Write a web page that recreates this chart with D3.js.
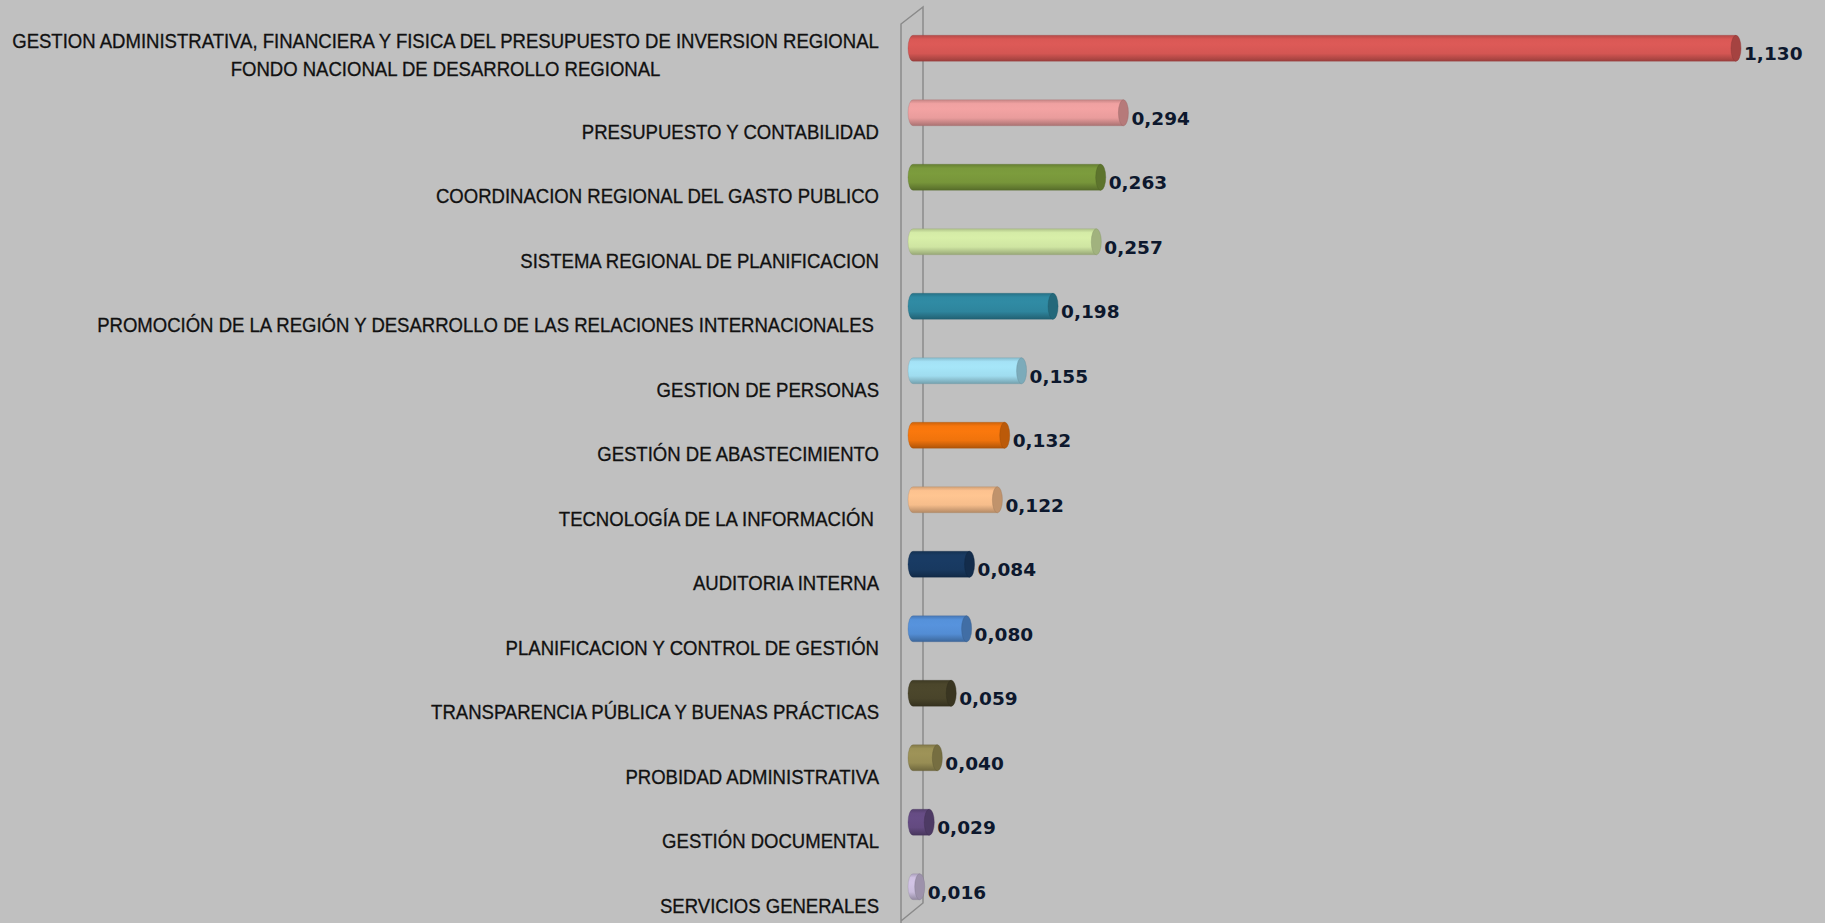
<!DOCTYPE html>
<html>
<head>
<meta charset="utf-8">
<script src="https://cdn.jsdelivr.net/npm/d3@7"></script>
<style>
  body { margin: 0; background: #c0c0c0; overflow: hidden; }
  svg { display: block; }
  .cat-label { font-family: "Liberation Sans", sans-serif; font-size: 19.5px; fill: #111; stroke: #111; stroke-width: 0.3px; white-space: pre; }
  .val-label { font-family: "DejaVu Sans", sans-serif; font-weight: bold; font-size: 18.5px; fill: #0d182d; }
</style>
</head>
<body>
<div id="bar-chart"></div>
<script>
// Data
const categories = [
  "GESTION ADMINISTRATIVA, FINANCIERA Y FISICA DEL PRESUPUESTO DE INVERSION REGIONAL\nFONDO NACIONAL DE DESARROLLO REGIONAL",
  "PRESUPUESTO Y CONTABILIDAD",
  "COORDINACION REGIONAL DEL GASTO PUBLICO",
  "SISTEMA REGIONAL DE PLANIFICACION",
  "PROMOCIÓN DE LA REGIÓN Y DESARROLLO DE LAS RELACIONES INTERNACIONALES ",
  "GESTION DE PERSONAS",
  "GESTIÓN DE ABASTECIMIENTO",
  "TECNOLOGÍA DE LA INFORMACIÓN ",
  "AUDITORIA INTERNA",
  "PLANIFICACION Y CONTROL DE GESTIÓN",
  "TRANSPARENCIA PÚBLICA Y BUENAS PRÁCTICAS",
  "PROBIDAD ADMINISTRATIVA",
  "GESTIÓN DOCUMENTAL",
  "SERVICIOS GENERALES"
];
const values = [1.130, 0.294, 0.263, 0.257, 0.198, 0.155, 0.132, 0.122, 0.084, 0.080, 0.059, 0.040, 0.029, 0.016];
const valueLabels = ["1,130", "0,294", "0,263", "0,257", "0,198", "0,155", "0,132", "0,122", "0,084", "0,080", "0,059", "0,040", "0,029", "0,016"];
const barColors = ["#d45653", "#e99c9c", "#77953a", "#cfe5a2", "#2e859d", "#9fdcef", "#f0730c", "#f6bd8b",
                   "#183960", "#538dd4", "#49442a", "#978d54", "#634a80", "#c9bcdc"];

const drawBarChart = () => {
  const width = 1825;
  const height = 923;
  const labelRight = 879;
  const firstLineWidth = 867;
  const barHeight = 26;
  const capRx = 5;

  const svg = d3.select("#bar-chart")
    .append("svg")
      .attr("width", width)
      .attr("height", height);

  svg.append("rect")
    .attr("width", width)
    .attr("height", height)
    .attr("fill", "#c0c0c0");

  // Scales
  const xScale = d3.scaleLinear()
    .domain([0, 1.13])
    .range([908, 1736]);

  const yScale = d3.scalePoint()
    .domain(categories)
    .range([16, 919])
    .padding(0.5);

  // 3D wall
  svg.append("path")
    .attr("d", "M901,923 V24 L923,7 V903 L901,921")
    .attr("stroke", "#8a8a8a")
    .attr("stroke-width", 1.5)
    .attr("fill", "none");

  // Gradients
  const defs = svg.append("defs");
  barColors.forEach((c, i) => {
    const base = d3.color(c);
    const g = defs.append("linearGradient")
      .attr("id", `grad-${i}`)
      .attr("x1", 0).attr("y1", 0).attr("x2", 0).attr("y2", 1);
    const stops = [
      [0, base.darker(0.45)],
      [0.15, base.brighter(0.08)],
      [0.35, base.brighter(0.12)],
      [0.7, base],
      [0.9, base.darker(0.55)],
      [1, base.darker(0.9)]
    ];
    stops.forEach(([o, col]) => g.append("stop").attr("offset", o).attr("stop-color", col));
  });

  // Bars
  const bars = svg.append("g")
    .selectAll("g")
    .data(values)
    .join("g");

  bars.append("path")
    .attr("d", (d, i) => {
      const x0 = xScale(0);
      const x1 = xScale(d);
      const y0 = yScale(categories[i]) - barHeight / 2;
      const y1 = y0 + barHeight;
      return `M${x0 + capRx},${y0} H${x1} V${y1} H${x0 + capRx} A${capRx},${barHeight / 2} 0 0 1 ${x0 + capRx},${y0} Z`;
    })
    .attr("fill", (d, i) => `url(#grad-${i})`)
    .attr("stroke", (d, i) => d3.color(barColors[i]).darker(1).copy({opacity: 0.35}))
    .attr("stroke-width", 0.8);

  bars.append("ellipse")
    .attr("cx", d => xScale(d))
    .attr("cy", (d, i) => yScale(categories[i]))
    .attr("rx", capRx)
    .attr("ry", barHeight / 2)
    .attr("fill", (d, i) => d3.color(barColors[i]).darker(0.7))
    .attr("stroke", (d, i) => d3.color(barColors[i]).darker(1.2).copy({opacity: 0.5}))
    .attr("stroke-width", 0.8);

  // Value labels
  svg.append("g")
    .selectAll("text")
    .data(values)
    .join("text")
      .attr("class", "val-label")
      .attr("x", d => xScale(d) + capRx + 3)
      .attr("y", (d, i) => yScale(categories[i]) + 12)
      .text((d, i) => valueLabels[i]);

  // Category labels (condensed by a horizontal scale to mimic a narrow font)
  const labelGroup = svg.append("g");
  const labels = categories.map(cat => {
    const lines = cat.split("\n");
    const cy = yScale(cat);
    const t = labelGroup.append("text")
      .attr("class", "cat-label")
      .attr("text-anchor", lines.length > 1 ? "middle" : "end");
    lines.forEach((line, j) => {
      t.append("tspan")
        .attr("x", 0)
        .attr("y", cy + 26 - (lines.length - 1) * 26 + j * 28)
        .text(line);
    });
    return t;
  });

  const firstW = labels[0].select("tspan").node().getComputedTextLength();
  const squeeze = firstLineWidth / firstW;

  labels.forEach(t => {
    const spans = t.selectAll("tspan").nodes();
    if (spans.length > 1) {
      const maxW = d3.max(spans, n => n.getComputedTextLength());
      t.selectAll("tspan").attr("x", -maxW / 2);
    }
    t.attr("transform", `translate(${labelRight},0) scale(${squeeze},1)`);
  });
};

drawBarChart();
</script>
</body>
</html>
